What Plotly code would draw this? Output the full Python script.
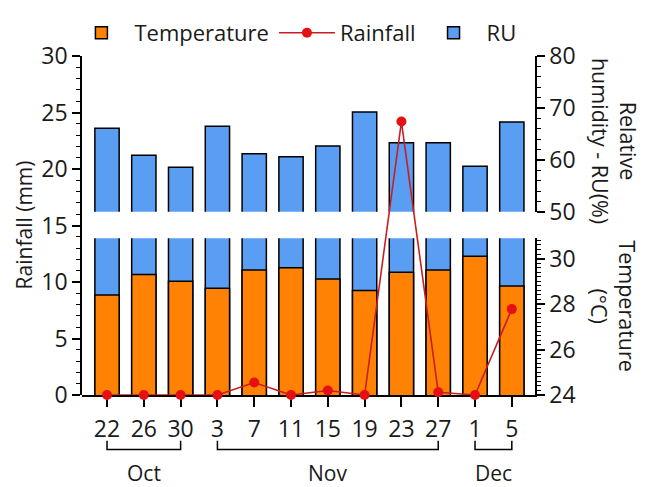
import plotly.graph_objects as go

dates = ["22", "26", "30", "3", "7", "11", "15", "19", "23", "27", "1", "5"]
temperature = [28.4, 29.3, 29.0, 28.7, 29.5, 29.6, 29.1, 28.6, 29.4, 29.5, 30.1, 28.8]
rainfall = [0, 0, 0, 0, 1.1, 0, 0.4, 0, 24.2, 0.25, 0, 7.6]
ru = [66.1, 60.9, 58.6, 66.5, 61.2, 60.6, 62.7, 69.2, 63.3, 63.3, 58.8, 67.3]
months = ["Oct", "Nov", "Dec"]
month_first = ["22", "3", "1"]
month_last = ["30", "27", "5"]

ORANGE = "#FF8205"
BLUE = "#5A9EF4"
FONT = "Open Sans"
TXT = "#1a1a1a"
BW = 0.66

fig = go.Figure()

# RU lower segment (continues under the break)
fig.add_trace(go.Bar(x=dates, y=ru, yaxis="y", width=BW, marker=dict(color=BLUE, line=dict(color="black", width=1.5)),
                     name="RU", showlegend=False, hoverinfo="skip"))
# Temperature
fig.add_trace(go.Bar(x=dates, y=temperature, yaxis="y", width=BW, marker=dict(color=ORANGE, line=dict(color="black", width=1.5)),
                     name="Temperature", legendrank=1))
# RU upper segment
fig.add_trace(go.Bar(x=dates, y=ru, yaxis="y2", width=BW, marker=dict(color=BLUE, line=dict(color="black", width=1.5)),
                     name="RU", legendrank=3))
# Rainfall
fig.add_trace(go.Scatter(x=dates, y=rainfall, yaxis="y3", mode="lines+markers", name="Rainfall",
                         line=dict(color="#C81E23", width=1.6), marker=dict(color="#E60F14", size=10),
                         cliponaxis=False, legendrank=2))

tickfont = dict(family=FONT, size=23, color=TXT)
axcommon = dict(showline=True, linecolor="black", linewidth=1.5, ticks="outside", tickcolor="black",
                tickwidth=1.5, showgrid=False, zeroline=False, tickfont=tickfont)

fig.update_layout(
    width=654, height=487,
    margin=dict(l=82, r=119, t=47, b=92),
    paper_bgcolor="white", plot_bgcolor="rgba(0,0,0,0)",
    barmode="overlay",
    font=dict(family=FONT, color=TXT),
    xaxis=dict(**axcommon, type="category", categoryorder="array", categoryarray=dates,
               range=[-0.68, 11.63], ticklen=10, anchor="y", ticklabelstandoff=3),
    yaxis=dict(**axcommon, domain=[0, 0.4626], range=[24, 30.9], side="right", anchor="x",
               tickvals=[24, 26, 28, 30], ticklen=8,
               minor=dict(dtick=0.2, tick0=24, ticks="outside", ticklen=4, tickcolor="black", tickwidth=1.2)),
    yaxis2=dict(**axcommon, domain=[0.5402, 1], range=[50, 80], side="right", anchor="x",
                dtick=10, ticklen=8,
                minor=dict(dtick=2, ticks="outside", ticklen=4, tickcolor="black", tickwidth=1.2)),
    yaxis3=dict(**axcommon, domain=[0, 1], range=[0, 30], side="left", anchor="x",
                dtick=5, ticklen=8,
                minor=dict(dtick=1, ticks="outside", ticklen=4, tickcolor="black", tickwidth=1.2)),
    legend=dict(orientation="h", x=0.47, xanchor="center", y=1.068, yanchor="middle",
                font=dict(family=FONT, size=22, color=TXT), bgcolor="rgba(0,0,0,0)",
                itemwidth=56),
)

# month brackets and labels
for m, a, b in zip(months, month_first, month_last):
    i0, i1 = dates.index(a), dates.index(b)
    fig.add_shape(type="path", xref="x", yref="paper",
                  path=f"M {i0} -0.135 L {i0} -0.161 L {i1} -0.161 L {i1} -0.135",
                  line=dict(color="black", width=1.5))
    fig.add_annotation(x=(i0 + i1) / 2, xref="x", y=-0.229, yref="paper", text=m, showarrow=False,
                       xanchor="center", yanchor="middle",
                       font=dict(family=FONT, size=21, color=TXT))

# axis titles
fig.add_annotation(x=-0.126, xref="paper", y=0.503, yref="paper", text="Rainfall (mm)", textangle=-90,
                   xanchor="center", yanchor="middle",
                   showarrow=False, font=dict(family=FONT, size=21, color=TXT))
fig.add_annotation(x=1.174, xref="paper", y=0.75, yref="paper", text="Relative<br>humidity - RU(%)", textangle=90,
                   xanchor="center", yanchor="middle",
                   showarrow=False, font=dict(family=FONT, size=21.5, color=TXT))
fig.add_annotation(x=1.174, xref="paper", y=0.262, yref="paper", text="Temperature<br>(°C)", textangle=90,
                   xanchor="center", yanchor="middle",
                   showarrow=False, font=dict(family=FONT, size=21.5, color=TXT))

fig.write_html("out.html")
